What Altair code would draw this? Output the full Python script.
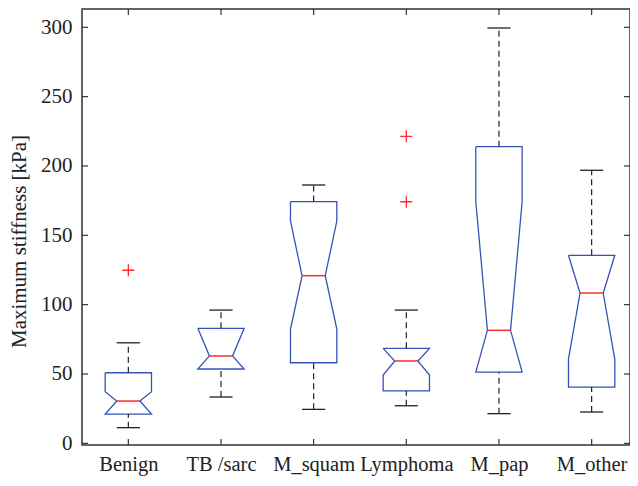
import altair as alt
import pandas as pd

groups = ["Benign", "TB /sarc", "M_squam", "Lymphoma", "M_pap", "M_other"]
q1 = [21.1, 53.6, 58.1, 37.9, 51.4, 40.6]
q3 = [50.9, 82.9, 174.3, 68.5, 213.9, 135.6]
median = [30.5, 63.0, 120.9, 59.4, 81.5, 108.4]
notch_lo = [21.1, 53.6, 82.4, 49.3, 51.4, 60.8]
notch_hi = [37.2, 82.9, 160.3, 68.5, 174.2, 135.6]
whisker_lo = [11.3, 33.4, 24.5, 27.1, 21.4, 22.6]
whisker_hi = [72.5, 96.1, 186.3, 96.1, 299.5, 196.9]
outlier_group = ["Benign", "Lymphoma", "Lymphoma"]
outlier_value = [124.8, 221.4, 174.2]
y_ticks = [0, 50, 100, 150, 200, 250, 300]

BW = 0.25   # half box width (category units)
NW = 0.125  # half notch width
CW = 0.125  # half cap width
W, H = 548, 436
FONT = "Liberation Serif"
BLUE = "#3553b5"
RED = "#ff2a2a"
TXT = "#222222"

rows = []
for i, g in enumerate(groups):
    p = i + 1
    pts = [(p - BW, q3[i]), (p + BW, q3[i]), (p + BW, notch_hi[i]), (p + NW, median[i]),
           (p + BW, notch_lo[i]), (p + BW, q1[i]), (p - BW, q1[i]), (p - BW, notch_lo[i]),
           (p - NW, median[i]), (p - BW, notch_hi[i]), (p - BW, q3[i])]
    for k, (xx, yy) in enumerate(pts):
        rows.append({"group": g, "order": k, "x": xx, "y": yy})
outline = pd.DataFrame(rows)

stats = pd.DataFrame({
    "group": groups,
    "pos": list(range(1, len(groups) + 1)),
    "q1": q1, "q3": q3, "median": median,
    "wlo": whisker_lo, "whi": whisker_hi,
})
stats["nl"] = stats["pos"] - NW
stats["nr"] = stats["pos"] + NW
stats["cl"] = stats["pos"] - CW
stats["cr"] = stats["pos"] + CW

pos_map = {g: i + 1 for i, g in enumerate(groups)}
outl = pd.DataFrame({"pos": [pos_map[g] for g in outlier_group], "value": outlier_value})

label_expr = "[" + ",".join("'" + g + "'" for g in groups) + "][datum.value - 1]"

xscale = alt.Scale(domain=[0.5, 6.414], nice=False, zero=False)
yscale = alt.Scale(domain=[-1.2, 313.2], nice=False, zero=False)

xaxis = alt.Axis(values=[1, 2, 3, 4, 5, 6], labelExpr=label_expr, ticks=False, domain=False,
                 grid=False, title=None, labelFont=FONT, labelFontSize=20.5, labelColor=TXT,
                 labelPadding=9)
yaxis = alt.Axis(values=y_ticks, ticks=False, domain=False, grid=False,
                 title="Maximum stiffness [kPa]", titleFont=FONT, titleFontSize=21,
                 titleFontWeight="normal", titleColor=TXT, titlePadding=11.5, titleY=232,
                 labelFont=FONT, labelFontSize=21, labelColor=TXT, labelPadding=10)

X = alt.X("x:Q", scale=xscale, axis=xaxis)

boxes = alt.Chart(outline).mark_line(color=BLUE, strokeWidth=1.3).encode(
    x=X,
    y=alt.Y("y:Q", scale=yscale, axis=yaxis),
    order="order:Q",
    detail="group:N",
)

base = alt.Chart(stats)
whisk_up = base.mark_rule(color="#222", strokeDash=[6, 4], strokeWidth=1.2).encode(
    x=alt.X("pos:Q", scale=xscale), y=alt.Y("q3:Q", scale=yscale), y2="whi:Q")
whisk_dn = base.mark_rule(color="#222", strokeDash=[6, 4], strokeWidth=1.2).encode(
    x=alt.X("pos:Q", scale=xscale), y=alt.Y("wlo:Q", scale=yscale), y2="q1:Q")
cap_up = base.mark_rule(color="#222", strokeWidth=1.3).encode(
    x=alt.X("cl:Q", scale=xscale), x2="cr:Q", y=alt.Y("whi:Q", scale=yscale))
cap_dn = base.mark_rule(color="#222", strokeWidth=1.3).encode(
    x=alt.X("cl:Q", scale=xscale), x2="cr:Q", y=alt.Y("wlo:Q", scale=yscale))
med = base.mark_rule(color=RED, strokeWidth=1.5).encode(
    x=alt.X("nl:Q", scale=xscale), x2="nr:Q", y=alt.Y("median:Q", scale=yscale))

outliers = alt.Chart(outl).mark_point(
    shape="M-1,0L1,0M0,-1L0,1", size=144, color=RED, filled=False, strokeWidth=1.3, opacity=1
).encode(x=alt.X("pos:Q", scale=xscale), y=alt.Y("value:Q", scale=yscale))

xt = pd.DataFrame({"pos": list(range(1, len(groups) + 1))})
yt = pd.DataFrame({"v": y_ticks})
tick_style = dict(color="#333", strokeWidth=1.2)
xt_bot = alt.Chart(xt).mark_rule(**tick_style).encode(
    x=alt.X("pos:Q", scale=xscale), y=alt.value(H - 6), y2=alt.value(H))
xt_top = alt.Chart(xt).mark_rule(**tick_style).encode(
    x=alt.X("pos:Q", scale=xscale), y=alt.value(0), y2=alt.value(6))
yt_left = alt.Chart(yt).mark_rule(**tick_style).encode(
    y=alt.Y("v:Q", scale=yscale), x=alt.value(0), x2=alt.value(6))
yt_right = alt.Chart(yt).mark_rule(**tick_style).encode(
    y=alt.Y("v:Q", scale=yscale), x=alt.value(W - 6), x2=alt.value(W))

chart = alt.layer(
    boxes, whisk_up, whisk_dn, cap_up, cap_dn, med, outliers,
    xt_bot, xt_top, yt_left, yt_right
).properties(
    width=W, height=H,
    background="white",
    autosize=alt.AutoSizeParams(type="none"),
    padding={"left": 74, "top": 1, "right": 0, "bottom": 33},
).configure_view(
    stroke="#333", strokeWidth=1.5
)

chart.save("out.html", embed_options={"renderer": "svg", "actions": False})
